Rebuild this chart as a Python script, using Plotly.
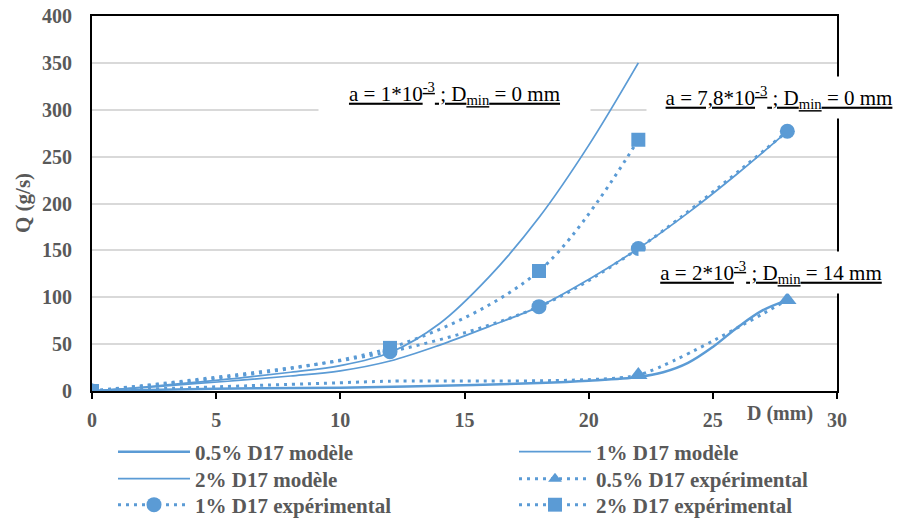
import plotly.graph_objects as go

# ---------------- data ----------------
d_mod_05 = [0, 5, 10, 14, 18, 20, 22, 23, 24, 25, 26, 27, 28]
q_mod_05 = [0, 2.5, 3.5, 5.5, 8.5, 11, 15, 20, 30, 47, 68, 86, 97]

d_mod_1 = [0, 2, 4, 6, 8, 10, 12, 14, 16, 18, 20, 22, 24, 26, 28]
q_mod_1 = [0, 3.5, 7.5, 11.5, 16, 21.5, 32, 49, 69, 90, 119, 152, 190, 232, 277]

d_mod_2 = [0, 2, 4, 6, 8, 10, 12, 14, 16, 18, 20, 22]
q_mod_2 = [0, 4, 9, 14, 20, 27, 41, 72, 122, 185, 262, 350]

d_exp_05 = [0, 12, 22, 28]
q_exp_05 = [0, 10.5, 17, 97]

d_exp_1 = [0, 12, 18, 22, 28]
q_exp_1 = [0, 42, 90, 152, 277]

d_exp_2 = [0, 12, 18, 22]
q_exp_2 = [0, 46, 128, 268]

names = ["0.5% D17 modèle", "1% D17 modèle", "2% D17 modèle",
         "0.5% D17 expérimental", "1% D17 expérimental", "2% D17 expérimental"]

x_ticks = [0, 5, 10, 15, 20, 25, 30]
y_ticks = [0, 50, 100, 150, 200, 250, 300, 350, 400]

# ---------------- style ----------------
BLUE = "#5B9BD5"
GRAY = "#595959"
SERIF = "Liberation Serif, Times New Roman, serif"
DOT = "3px,5px"

W, H = 902, 521
ML, MR, MT, MB = 92, 65, 16, 130
PW, PH = W - ML - MR, H - MT - MB


def px2paper(xp, yp):
    return (xp - ML) / PW, (H - MB - yp) / PH


fig = go.Figure()

fig.add_trace(go.Scatter(x=d_mod_05, y=q_mod_05, name=names[0], mode="lines", legend="legend",
                         line=dict(color=BLUE, width=2.5, shape="spline", smoothing=1)))
fig.add_trace(go.Scatter(x=d_mod_1, y=q_mod_1, name=names[1], mode="lines", legend="legend2",
                         line=dict(color=BLUE, width=1.75, shape="spline", smoothing=1)))
fig.add_trace(go.Scatter(x=d_mod_2, y=q_mod_2, name=names[2], mode="lines", legend="legend3",
                         line=dict(color=BLUE, width=1.75, shape="spline", smoothing=1)))
fig.add_trace(go.Scatter(x=d_exp_05, y=q_exp_05, name=names[3], mode="lines+markers",
                         legend="legend4",
                         line=dict(color=BLUE, width=3, dash=DOT, shape="spline", smoothing=0.5),
                         marker=dict(symbol="triangle-up", size=[16, 0, 16, 16], color=BLUE,
                                     opacity=1, line=dict(width=0))))
fig.add_trace(go.Scatter(x=d_exp_1, y=q_exp_1, name=names[4], mode="lines+markers",
                         legend="legend5",
                         line=dict(color=BLUE, width=3, dash=DOT, shape="spline", smoothing=0.9),
                         marker=dict(symbol="circle", size=15, color=BLUE, opacity=1,
                                     line=dict(width=0))))
fig.add_trace(go.Scatter(x=d_exp_2, y=q_exp_2, name=names[5], mode="lines+markers",
                         legend="legend6",
                         line=dict(color=BLUE, width=3, dash=DOT, shape="spline", smoothing=0.9),
                         marker=dict(symbol="square", size=14, color=BLUE, opacity=1,
                                     line=dict(width=0))))

ann_font = dict(family=SERIF, size=21, color="black", lineposition="under")
annotations = [
    dict(text="a = 1*10<sup>-3</sup> ; D<sub>min</sub> = 0 mm", x=14.6, y=317,
         width=269, height=37),
    dict(text="a = 7,8*10<sup>-3</sup> ; D<sub>min</sub> = 0 mm", x=27.65, y=313,
         width=262, height=39),
    dict(text="a = 2*10<sup>-3</sup> ; D<sub>min</sub> = 14 mm", x=27.35, y=126,
         width=262, height=39),
]
for a in annotations:
    fig.add_annotation(xref="x", yref="y", showarrow=False, bgcolor="white",
                       font=ann_font, xanchor="center", yanchor="middle",
                       align="center", valign="middle", **a)

dx, dy = px2paper(780, 413)
fig.add_annotation(xref="paper", yref="paper", x=dx, y=dy, showarrow=False,
                   text="<b>D (mm)</b>", font=dict(family=SERIF, size=20, color=GRAY),
                   xanchor="center", yanchor="middle")
qx, qy = px2paper(23, 203)
fig.add_annotation(xref="paper", yref="paper", x=qx, y=qy, showarrow=False,
                   text="<b>Q (g/s)</b>", textangle=-90,
                   font=dict(family=SERIF, size=21, color=GRAY),
                   xanchor="center", yanchor="middle")

leg_font = dict(family=SERIF, size=21, color=GRAY, weight="bold")
leg_pos = {  # left edge px, row centre px
    "legend": (113, 452), "legend2": (514, 452),
    "legend3": (113, 479), "legend4": (514, 479),
    "legend5": (113, 505), "legend6": (514, 505),
}
legends = {}
for key, (lx, ly) in leg_pos.items():
    px_, py_ = px2paper(lx, ly)
    legends[key] = dict(x=px_, y=py_, xanchor="left", yanchor="middle", itemwidth=72,
                        font=leg_font, bgcolor="rgba(0,0,0,0)", borderwidth=0)

fig.update_layout(
    width=W, height=H,
    margin=dict(l=ML, r=MR, t=MT, b=MB, autoexpand=False),
    plot_bgcolor="white", paper_bgcolor="white",
    font=dict(family=SERIF, color=GRAY),
    showlegend=True,
    **legends,
    xaxis=dict(range=[0, 30], tickvals=x_ticks, showgrid=False, zeroline=False,
               showline=True, linecolor="black", linewidth=2, mirror=True,
               ticks="outside", ticklen=6, tickwidth=2, tickcolor="black",
               tickfont=dict(family=SERIF, size=20, color=GRAY, weight="bold"),
               ticklabelstandoff=4, automargin=False),
    xaxis2=dict(range=[0, 30], overlaying="x", matches="x", anchor="y", side="bottom",
                tickvals=x_ticks, showticklabels=False, showgrid=False, zeroline=False,
                ticks="inside", ticklen=6, tickwidth=2, tickcolor="black", showline=False),
    yaxis=dict(range=[0, 400], tickvals=y_ticks, showgrid=True, gridcolor="#D9D9D9",
               gridwidth=1.5, zeroline=False, showline=True, linecolor="black",
               linewidth=2, mirror=True, ticks="",
               tickfont=dict(family=SERIF, size=20, color=GRAY, weight="bold"),
               ticklabelstandoff=14, automargin=False),
)

fig.write_html("out.html", config={"displayModeBar": False},
               post_script="document.body.style.margin='0';document.body.style.overflow='hidden';")
